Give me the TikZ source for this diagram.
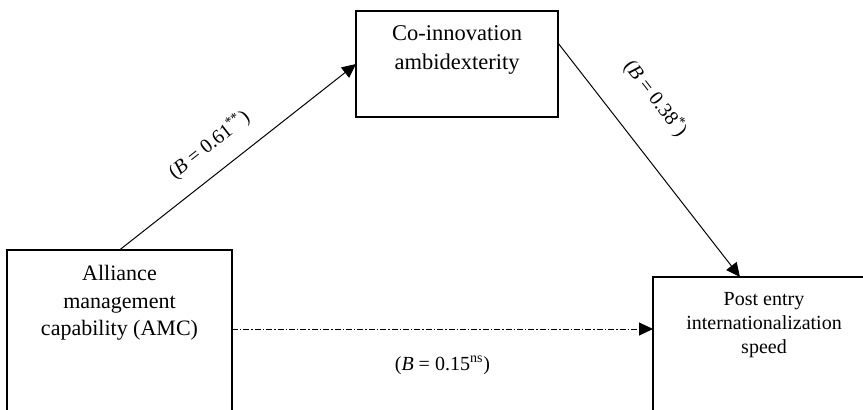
\documentclass[tikz,border=0pt]{standalone}
\usepackage{fontspec}
\setmainfont{Liberation Serif}
\usetikzlibrary{arrows.meta, positioning, calc}

\tikzset{
  box/.style={draw, line width=0.6pt, outer sep=0pt, inner sep=0pt},
  boxtext/.style={align=center, inner sep=0pt, anchor=north},
  path/.style={draw, line width=0.5pt, -{Triangle[length=7pt,width=6.5pt]}},
  coef/.style={font=\fontsize{10}{12}\selectfont, sloped}
}

\begin{document}
\begin{tikzpicture}[x=0.5pt, y=0.5pt]
  \useasboundingbox (0,0) rectangle (863,409);
  % boxes
  \node[box, minimum width=101pt, minimum height=53pt] (coin) at (457,345) {};
  \node[box, minimum width=112.5pt, minimum height=95pt] (amc) at (119.5,64) {};
  \node[box, minimum width=111pt, minimum height=81.5pt] (post) at (764,50.5) {};
  % texts
  \node[boxtext, below=7.3pt of coin.north, font=\fontsize{11.25}{14.5}\selectfont]
    (cointext) {Co-innovation\\ambidexterity};
  \node[boxtext, below=7.5pt of amc.north, font=\fontsize{11}{13.75}\selectfont]
    (amctext) {Alliance\\management\\capability (AMC)};
  \node[boxtext, below=7.3pt of post.north, font=\fontsize{10}{12}\selectfont]
    (posttext) {Post entry\\internationalization\\speed};
  % paths
  \coordinate (dstart) at ([yshift=-39.5pt]amc.north east);
  \path[path] (amc.north) -- (coin.west)
    node[coef, pos=0.45, above=4.9pt] (lab1) {(\textit{B} = 0.61\textsuperscript{**})};
  \path[path] ([yshift=10.5pt]coin.east) -- ([xshift=43.5pt]post.north west)
    node[coef, pos=0.35, above=12.8pt] (lab2) {(\textit{B} = 0.38\textsuperscript{*})};
  \path[path, dash pattern=on 3pt off 1pt on 0.7pt off 1pt] (dstart) -- (dstart -| post.west)
    node[font=\fontsize{10}{12}\selectfont, midway, below=10pt] (lab3) {(\textit{B} = 0.15\textsuperscript{ns})};
\end{tikzpicture}
\end{document}
